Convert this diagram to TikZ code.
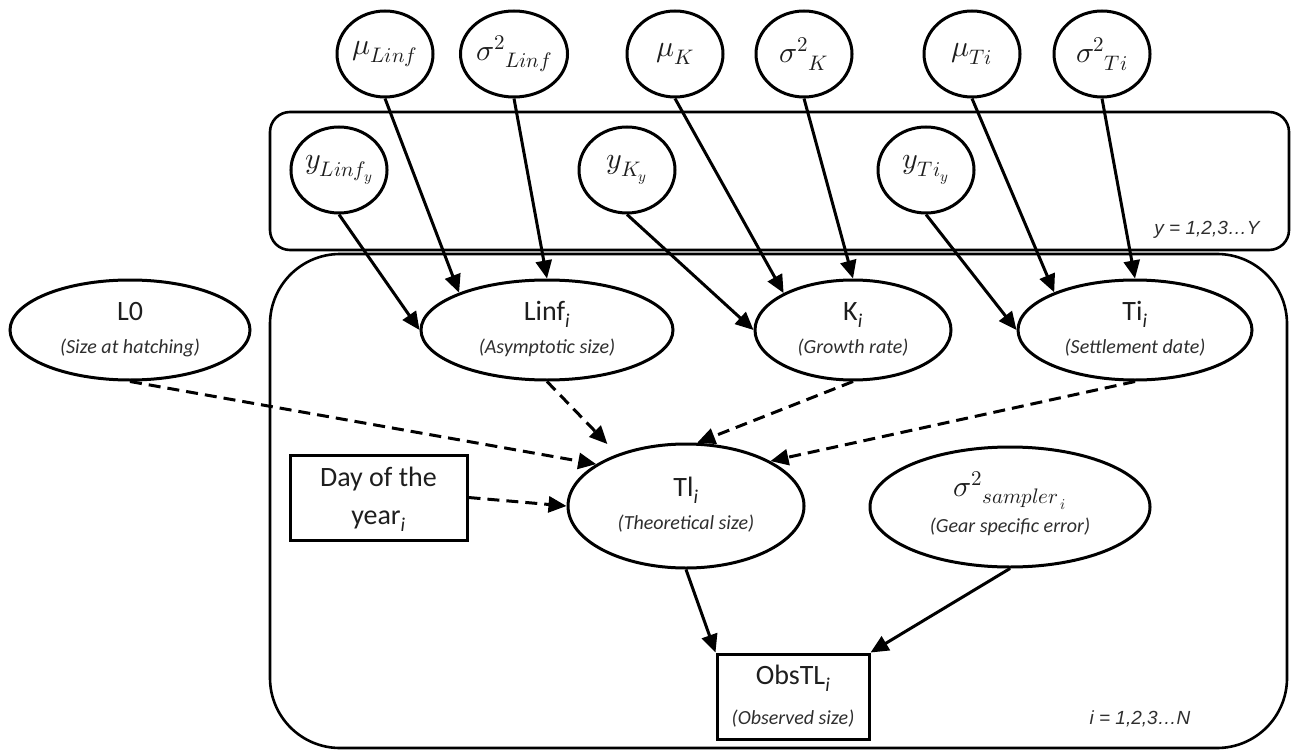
\documentclass[tikz,border=0pt]{standalone}
\usepackage{fontspec}
\usepackage{unicode-math}
\setmainfont{Carlito}
\setmathfont{Latin Modern Math}
\newfontfamily\labfont{Liberation Sans}
\usetikzlibrary{shapes.geometric,arrows.meta}
\definecolor{txt}{HTML}{1E1E1E}
\definecolor{subtxt}{HTML}{2E2E2E}
\newcommand{\subf}{\fontsize{20}{24}\selectfont\itshape\color{subtxt}}
\newcommand{\twol}[2]{\begin{tabular}{@{}c@{}}#1\\{\subf #2}\end{tabular}}
\begin{document}
\begin{tikzpicture}[x=1pt,y=-1pt,
  lw/.style={line width=3pt},
  circ/.style={ellipse, draw, lw, minimum width=96pt, minimum height=86pt, inner sep=0pt, text=txt, font=\fontsize{30}{36}\selectfont},
  ell/.style={ellipse, draw, lw, inner sep=0pt, text=txt, font=\fontsize{28}{33}\selectfont},
  box/.style={rectangle, draw, lw, inner sep=0pt, text=txt},
  plate/.style={draw, line width=2.6pt},
  plabel/.style={text=subtxt, font=\labfont\itshape\fontsize{19}{22}\selectfont},
  arr/.style={lw, -{Triangle[length=18pt,width=16pt]}},
  darr/.style={arr, dash pattern=on 12pt off 7pt},
]
\useasboundingbox (0,0) rectangle (1292,751);

% plates
\draw[plate, rounded corners=20pt] (270,112) rectangle (1289,250);
\draw[plate, rounded corners=70pt] (270,254) rectangle (1287,748);
\node[plabel] (ylab) at (1207,230) {y = 1,2,3…Y};
\node[plabel] (ilab) at (1140,719) {i = 1,2,3…N};

% hyperparameters
\node[circ] (muL) at (385,54) {$\mu_{Linf}$};
\node[circ] (sgL) at (514,54) {$\sigma^{2}{}_{Linf}$};
\node[circ] (muK) at (675,54) {$\mu_{K}$};
\node[circ] (sgK) at (804,54) {$\sigma^{2}{}_{K}$};
\node[circ] (muT) at (972,54) {$\mu_{Ti}$};
\node[circ] (sgT) at (1102,54) {$\sigma^{2}{}_{Ti}$};

% year effects
\node[circ] (yL) at (339,170) {$y_{Linf_{y}}$};
\node[circ] (yK) at (627,170) {$y_{K_{y}}$};
\node[circ] (yT) at (926,170) {$y_{Ti_{y}}$};

% individual parameters
\node[ell, minimum width=240pt, minimum height=100pt] (L0) at (130,330) {\twol{L0}{(Size at hatching)}};
\node[ell, minimum width=252pt, minimum height=100pt] (Linf) at (547,330) {\twol{Linf\textsubscript{\textit{i}}}{(Asymptotic size)}};
\node[ell, minimum width=196pt, minimum height=100pt] (K) at (853,330) {\twol{K\textsubscript{\textit{i}}}{(Growth rate)}};
\node[ell, minimum width=234pt, minimum height=100pt] (Ti) at (1135,330) {\twol{Ti\textsubscript{\textit{i}}}{(Settlement date)}};

\node[ell, minimum width=236pt, minimum height=124pt] (Tl) at (686,506) {\twol{Tl\textsubscript{\textit{i}}}{(Theoretical size)}};
\node[ell, minimum width=280pt, minimum height=120pt] (smp) at (1010,507) {\twol{\fontsize{30}{33}\selectfont$\sigma^{2}{}_{sampler_{\,i}}$}{(Gear specific error)}};

\node[box, minimum width=177pt, minimum height=85pt, font=\fontsize{28}{38}\selectfont] (day) at (378.5,497.5) {\begin{tabular}{@{}c@{}}Day of the\\year\textsubscript{\textit{i}}\end{tabular}};
\node[box, minimum width=152pt, minimum height=85pt, font=\fontsize{28}{40}\selectfont] (obs) at (793,696.5) {\begin{tabular}{@{}c@{}}ObsTL\textsubscript{\textit{i}}\\{\subf (Observed size)}\end{tabular}};

% solid arrows
\draw[arr] (yL.south) -- (Linf.west);
\draw[arr] (muL.south) -- (Linf.157.6);
\draw[arr] (sgL.south) -- (Linf.north);
\draw[arr] (yK.south) -- (K.west);
\draw[arr] (muK.south) -- (K.152.1);
\draw[arr] (sgK.south) -- (K.north);
\draw[arr] (yT.south) -- (Ti.west);
\draw[arr] (muT.south) -- (Ti.155.7);
\draw[arr] (sgT.south) -- (Ti.north);

% dashed arrows
\draw[darr] (L0.south) -- (Tl.155.4);
\draw[darr, shorten >=14pt] (Linf.south) -- (Tl.143);
\draw[darr] (K.south) -- (Tl.80);
\draw[darr] (Ti.south) -- (Tl.28);
\draw[darr] (day.east) -- (Tl.west);

% observation
\draw[arr] (Tl.south) -- (obs.north west);
\draw[arr] (smp.south) -- (obs.north east);
\end{tikzpicture}
\end{document}
